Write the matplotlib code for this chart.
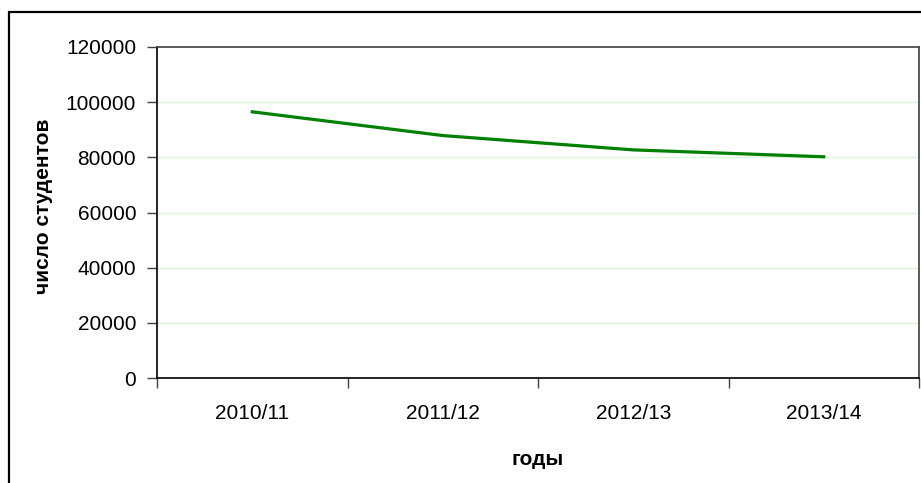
import matplotlib
matplotlib.use("Agg")
import matplotlib.pyplot as plt
from matplotlib.patches import Rectangle
import numpy as np

plt.rcParams['font.family'] = ['Liberation Sans', 'DejaVu Sans']

years = ["2010/11", "2011/12", "2012/13", "2013/14"]
students = [96500, 87900, 82700, 80200]
yticks = [0, 20000, 40000, 60000, 80000, 100000, 120000]

fig = plt.figure(figsize=(9.21, 4.83), dpi=100)
# внешняя рамка диаграммы
fig.patches.append(Rectangle((8.5 / 921, -0.05), 1.1, 1 - 12.5 / 483 + 0.05,
                             transform=fig.transFigure, fill=False,
                             edgecolor="black", linewidth=1.6))

ax = fig.add_axes([157 / 921, 1 - 378 / 483, 762 / 921, 331 / 483])
x = np.arange(len(years))
ax.plot(x, students, color="#008000", linewidth=2.3, zorder=3)

ax.set_xlim(-0.5, len(years) - 0.5)
ax.set_ylim(0, 120000)
ax.set_yticks(yticks)
ax.set_yticklabels([str(v) for v in yticks], fontsize=15)
for v in yticks[1:-1]:
    ax.axhline(v, color="#d8f5d8", linewidth=1, zorder=1)

# деления между категориями, подписи по центру
ax.set_xticks(np.arange(len(years) + 1) - 0.5)
ax.set_xticklabels([])
ax.set_xticks(x, minor=True)
ax.set_xticklabels(years, minor=True, fontsize=15)
ax.tick_params(axis="x", which="major", length=7, width=1, direction="out", color="#404040")
ax.tick_params(axis="x", which="minor", length=0, pad=19)
ax.tick_params(axis="y", length=7, width=1, direction="out", color="#404040", pad=8)

for s in ["top", "right"]:
    ax.spines[s].set_color("#404040")
for s in ["left", "bottom"]:
    ax.spines[s].set_color("black")
for s in ax.spines.values():
    s.set_linewidth(1.2)

ax.set_ylabel("число студентов", fontsize=15, fontweight="bold")
ax.yaxis.set_label_coords(-0.1365, 0.518)
ax.set_xlabel("годы", fontsize=15, fontweight="bold")
ax.xaxis.set_label_coords(0.5, -0.2175)

fig.savefig("out.png", dpi=100)
